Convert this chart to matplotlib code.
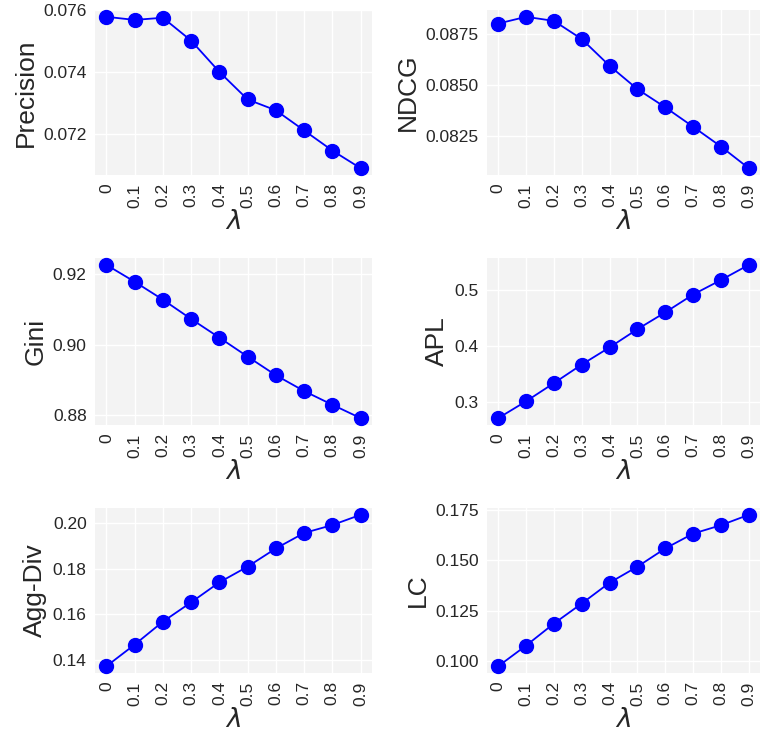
import numpy as np
import matplotlib.pyplot as plt

plt.rcParams['font.family'] = ['Liberation Sans', 'DejaVu Sans']
plt.rcParams['mathtext.fontset'] = 'dejavusans'
plt.rcParams['text.color'] = '#262626'
plt.rcParams['axes.labelcolor'] = '#262626'
plt.rcParams['xtick.color'] = '#262626'
plt.rcParams['ytick.color'] = '#262626'

lambdas = ['0', '0.1', '0.2', '0.3', '0.4', '0.5', '0.6', '0.7', '0.8', '0.9']

precision = [0.07578, 0.07568, 0.07575, 0.07501, 0.07400, 0.07311, 0.07276, 0.07211, 0.07146, 0.07089]
ndcg = [0.08802, 0.08835, 0.08815, 0.08726, 0.08595, 0.08481, 0.08392, 0.08297, 0.08200, 0.08094]
gini = [0.9227, 0.9179, 0.9128, 0.9073, 0.9020, 0.8966, 0.8913, 0.8868, 0.8829, 0.8791]
apl = [0.2704, 0.3006, 0.3332, 0.3665, 0.3973, 0.4299, 0.4601, 0.4921, 0.5181, 0.5453]
agg_div = [0.1372, 0.1467, 0.1568, 0.1653, 0.1741, 0.1810, 0.1890, 0.1958, 0.1993, 0.2038]
lc = [0.0972, 0.1075, 0.1185, 0.1285, 0.1389, 0.1469, 0.1560, 0.1634, 0.1676, 0.1728]

panels = [
    ('Precision', precision, [0.072, 0.074, 0.076], '{:.3f}'),
    ('NDCG', ndcg, [0.0825, 0.0850, 0.0875], '{:.4f}'),
    ('Gini', gini, [0.88, 0.90, 0.92], '{:.2f}'),
    ('APL', apl, [0.3, 0.4, 0.5], '{:.1f}'),
    ('Agg-Div', agg_div, [0.14, 0.16, 0.18, 0.20], '{:.2f}'),
    ('LC', lc, [0.100, 0.125, 0.150, 0.175], '{:.3f}'),
]

W, H = 761, 734
fig = plt.figure(figsize=(W / 100, H / 100), dpi=100)

# axes boxes in pixels: left, top, right, bottom
lefts = [(95, 372), (487, 760)]
rows = [(10, 175), (258, 425), (508, 673)]

x = np.arange(len(lambdas))
for i, (name, vals, ticks, fmt) in enumerate(panels):
    l, r = lefts[i % 2]
    t, b = rows[i // 2]
    ax = fig.add_axes([l / W, 1 - b / H, (r - l) / W, (b - t) / H])
    ax.set_facecolor('#f3f3f3')
    ax.grid(True, color='white', linewidth=1)
    ax.set_axisbelow(True)
    for s in ax.spines.values():
        s.set_visible(False)
    ax.plot(x, vals, color='blue', linewidth=1.3, marker='o', markersize=10,
            clip_on=False, zorder=3)
    ax.set_xticks(x)
    ax.set_xticklabels(lambdas, rotation=90)
    ax.set_yticks(ticks)
    ax.set_yticklabels([fmt.format(v) for v in ticks])
    ax.tick_params(length=0, labelsize=12.5, pad=6)
    ax.set_ylabel(name, fontsize=19)
    ax.set_xlabel(r'$\lambda$', fontsize=19, labelpad=2)
    ax.margins(x=0.045, y=0.045)

fig.savefig('out.png', dpi=100)
